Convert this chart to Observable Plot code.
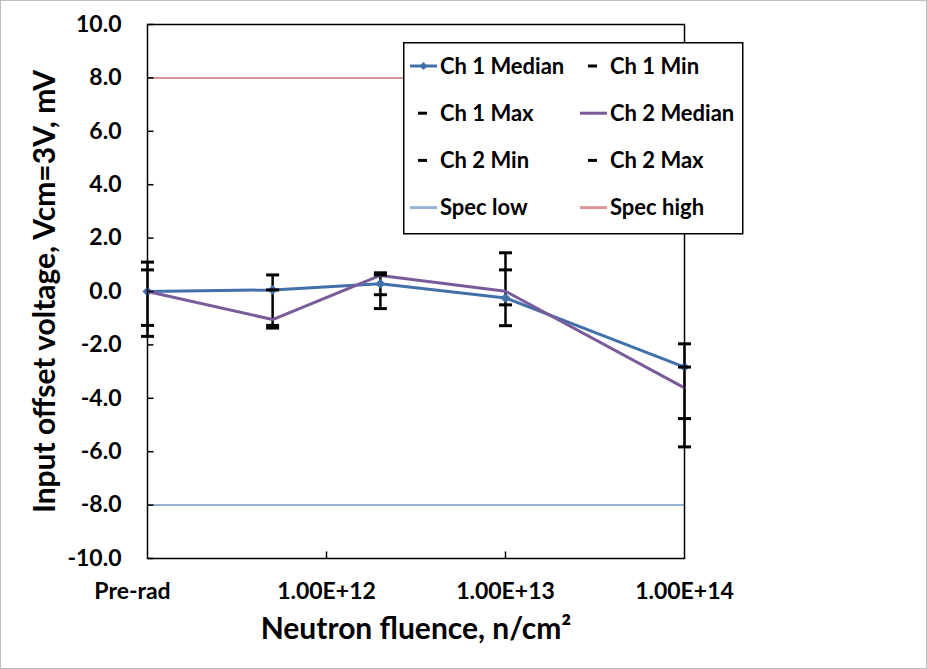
<!DOCTYPE html>
<html>
<head>
<meta charset="utf-8">
<script src="https://cdn.jsdelivr.net/npm/d3@7"></script>
<script src="https://cdn.jsdelivr.net/npm/@observablehq/plot@0.6"></script>
<style>
  body { margin: 0; background: #fff; }
  #wrap { position: relative; width: 927px; height: 669px; font-family: Lato, "Open Sans", sans-serif; font-weight: 700; }
  #border { position: absolute; left: 0; top: 0; width: 925px; height: 667px; border: 1px solid #bdbdbd; pointer-events: none; }
  #legend { position: absolute; left: 403px; top: 42px; }
</style>
</head>
<body>
<div id="wrap"><div id="chart"></div><div id="legend"></div><div id="border"></div></div>
<script>
// ---- data ----
const fluence   = [1e11, 5e11, 2e12, 1e13, 1e14];   // 1e11 = "Pre-rad"
const ch1Median = [0.00, 0.06, 0.29, -0.24, -2.83];
const ch1Min    = [-1.27, -1.27, -0.64, -1.28, -4.76];
const ch1Max    = [1.10, 0.62, 0.62, 0.81, -1.96];
const ch2Median = [0.00, -1.05, 0.60, 0.01, -3.61];
const ch2Min    = [-1.68, -1.37, -0.12, -0.50, -5.82];
const ch2Max    = [0.81, 0.06, 0.70, 1.45, -2.83];
const specLow = [-8];
const specHigh = [8];
const xTickValues = [1e11, 1e12, 1e13, 1e14];
const xTickLabels = ["Pre-rad", "1.00E+12", "1.00E+13", "1.00E+14"];
const yTickValues = [-10, -8, -6, -4, -2, 0, 2, 4, 6, 8, 10];
const xTitle = "Neutron fluence, n/cm\u00B2";
const yTitle = "Input offset voltage, Vcm=3V, mV";
const legendLabels = ["Ch 1 Median", "Ch 1 Min", "Ch 1 Max", "Ch 2 Median", "Ch 2 Min", "Ch 2 Max", "Spec low", "Spec high"];
const legendKinds  = ["lineDiamond", "dash", "dash", "line", "dash", "dash", "line", "line"];

// ---- styles ----
const BLUE = "#4271aa", PURPLE = "#7a5b99", SPEC_LOW = "#95b3d7", SPEC_HIGH = "#d99694";
const legendColors = [BLUE, "#000", "#000", PURPLE, "#000", "#000", SPEC_LOW, SPEC_HIGH];

const rows = fluence.map((f, i) => ({
  f, ch1Median: ch1Median[i], ch1Min: ch1Min[i], ch1Max: ch1Max[i],
  ch2Median: ch2Median[i], ch2Min: ch2Min[i], ch2Max: ch2Max[i]
}));

const hbar = {draw(ctx) { ctx.moveTo(-6.5, 0); ctx.lineTo(6.5, 0); }};
const tickRight = {draw(ctx) { ctx.moveTo(0, 0); ctx.lineTo(6, 0); }};
const tickUp = {draw(ctx) { ctx.moveTo(0, 0); ctx.lineTo(0, -7); }};

const fmtY = d => d.toFixed(1);
const labelOf = d => xTickLabels[xTickValues.indexOf(d)];

const chart = Plot.plot({
  width: 927, height: 669,
  marginLeft: 147, marginRight: 243, marginTop: 24, marginBottom: 111,
  style: {fontFamily: "Lato, 'Open Sans', sans-serif", fontWeight: "700", fontSize: "23px", color: "#000", background: "transparent"},
  x: {type: "log", domain: [1e11, 1e14]},
  y: {domain: [-10, 10]},
  marks: [
    Plot.ruleY(specHigh, {stroke: SPEC_HIGH, strokeWidth: 2}),
    Plot.ruleY(specLow, {stroke: SPEC_LOW, strokeWidth: 2}),
    Plot.ruleX(rows, {x: "f", y1: d => Math.min(d.ch1Min, d.ch2Min), y2: d => Math.max(d.ch1Max, d.ch2Max), stroke: "#000", strokeWidth: 2.5}),
    Plot.line(rows, {x: "f", y: "ch1Median", stroke: BLUE, strokeWidth: 3}),
    Plot.dot(rows, {x: "f", y: "ch1Median", symbol: "diamond2", r: 4.5, fill: BLUE, stroke: "none"}),
    Plot.line(rows, {x: "f", y: "ch2Median", stroke: PURPLE, strokeWidth: 3}),
    Plot.dot(rows, {x: "f", y: "ch1Min", symbol: hbar, fill: "none", stroke: "#000", strokeWidth: 3}),
    Plot.dot(rows, {x: "f", y: "ch1Max", symbol: hbar, fill: "none", stroke: "#000", strokeWidth: 3}),
    Plot.dot(rows, {x: "f", y: "ch2Min", symbol: hbar, fill: "none", stroke: "#000", strokeWidth: 3}),
    Plot.dot(rows, {x: "f", y: "ch2Max", symbol: hbar, fill: "none", stroke: "#000", strokeWidth: 3}),
    Plot.frame({stroke: "#000", strokeWidth: 1.5}),
    Plot.dot(yTickValues, {y: d => d, frameAnchor: "left", symbol: tickRight, fill: "none", stroke: "#000", strokeWidth: 1.5}),
    Plot.dot(xTickValues.slice(1, 3), {x: d => d, frameAnchor: "bottom", symbol: tickUp, fill: "none", stroke: "#000", strokeWidth: 1.5}),
    Plot.axisY({ticks: yTickValues, tickFormat: fmtY, tickSize: 0, tickPadding: 26, label: null, fontSize: 23, fontWeight: 700}),
    Plot.axisX({ticks: xTickValues.slice(1), tickFormat: labelOf, tickSize: 0, tickPadding: 24, label: null, fontSize: 23, fontWeight: 700}),
    Plot.axisX({ticks: xTickValues.slice(0, 1), tickFormat: labelOf, tickSize: 0, tickPadding: 24, dx: -15, label: null, fontSize: 23, fontWeight: 700}),
    Plot.text([xTitle], {frameAnchor: "bottom", textAnchor: "middle", dy: 80, fontSize: 30, fontWeight: 700, fill: "#000"}),
    Plot.text([yTitle], {frameAnchor: "left", textAnchor: "middle", dx: -102, rotate: -90, fontSize: 30, fontWeight: 700, fill: "#000"})
  ]
});
document.getElementById("chart").appendChild(chart);

// ---- legend ----
const LW = 339, LH = 191, rowGap = 47.2, firstBase = 31.5;
const colSym = [[7, 34], [177, 204]];
const colText = [37, 207];
const lsvg = d3.select("#legend").append("svg").attr("width", LW + 2).attr("height", LH + 2)
  .style("font-family", "Lato, 'Open Sans', sans-serif").style("font-weight", 700);
lsvg.append("rect").attr("x", 0.75).attr("y", 0.75).attr("width", LW).attr("height", LH)
  .attr("fill", "#fff").attr("stroke", "#000").attr("stroke-width", 1.5);
legendLabels.forEach((label, i) => {
  const col = i % 2, row = Math.floor(i / 2);
  const base = firstBase + row * rowGap;
  const cy = base - 7.5;
  const [s0, s1] = colSym[col];
  const kind = legendKinds[i], color = legendColors[i];
  if (kind === "line" || kind === "lineDiamond") {
    lsvg.append("line").attr("x1", s0).attr("x2", s1).attr("y1", cy).attr("y2", cy)
      .attr("stroke", color).attr("stroke-width", 3);
    if (kind === "lineDiamond") {
      const m = (s0 + s1) / 2, r = 4;
      lsvg.append("path").attr("d", `M${m},${cy - r}L${m + r},${cy}L${m},${cy + r}L${m - r},${cy}Z`).attr("fill", color);
    }
  } else {
    const m = (s0 + s1) / 2 - 1;
    lsvg.append("line").attr("x1", m - 4.5).attr("x2", m + 4.5).attr("y1", cy).attr("y2", cy)
      .attr("stroke", color).attr("stroke-width", 3);
  }
  lsvg.append("text").attr("x", colText[col]).attr("y", base).attr("font-size", 22).attr("fill", "#000").text(label);
});
</script>
</body>
</html>
